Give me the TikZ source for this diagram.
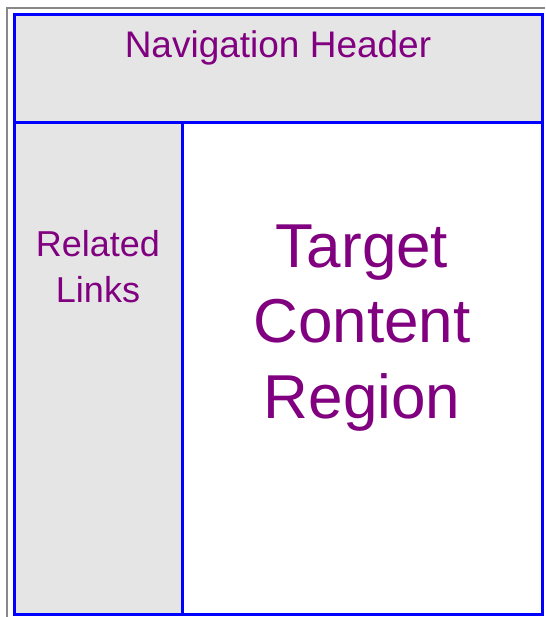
\documentclass[tikz,border=0pt]{standalone}
\usepackage{fontspec}
\setmainfont{Liberation Sans}
\definecolor{txtpurple}{HTML}{800080}
\definecolor{panelgray}{HTML}{E5E5E5}
\definecolor{framegray}{HTML}{888888}
\definecolor{edgeblue}{HTML}{0000FF}
\begin{document}
\begin{tikzpicture}[x=1pt,y=-1pt,
  panel/.style={draw=edgeblue,line width=3pt},
  label/.style={text=txtpurple,inner sep=0pt,align=center}]
\useasboundingbox (0,0) rectangle (545,617);
\fill[white] (0,0) rectangle (545,617);
\draw[framegray,line width=2pt] (7,617) -- (7,8) -- (545,8);
\filldraw[panel,fill=panelgray] (14,15) rectangle (542,123);
\filldraw[panel,fill=panelgray] (14,123) rectangle (182,614);
\filldraw[panel,fill=white] (182,123) rectangle (542,614);
\node[label,anchor=base,font=\fontsize{37}{44}\selectfont] (nav) at (278,58) {Navigation Header};
\node[label,anchor=base,font=\fontsize{36}{45.5}\selectfont] (rel) at (98,302) {Related\\Links};
\node[label,anchor=base,font=\fontsize{62}{75.5}\selectfont] (tgt) at (362,418) {Target\\Content\\Region};
\end{tikzpicture}
\end{document}
